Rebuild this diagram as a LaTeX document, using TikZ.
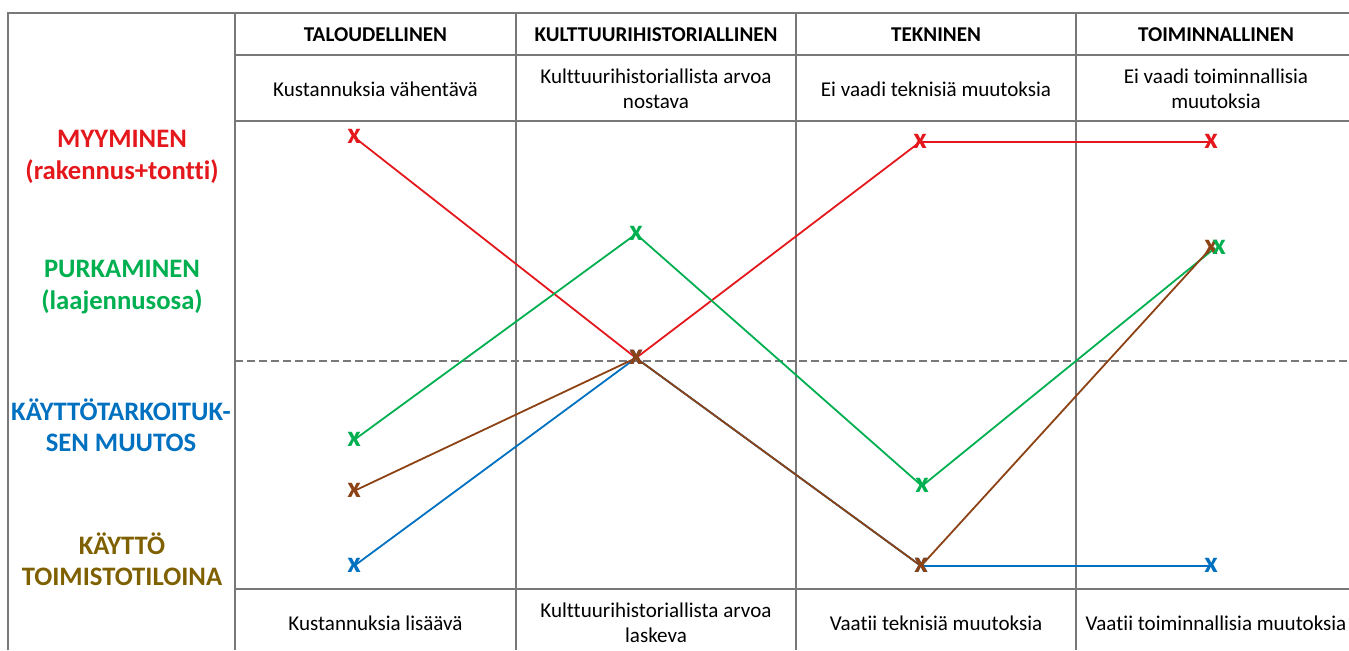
\documentclass[tikz,border=0pt]{standalone}
\usepackage{fontspec}
\setmainfont{Carlito}[Ligatures={NoCommon}]
\definecolor{gridc}{RGB}{120,120,120}
\definecolor{cred}{RGB}{228,24,28}
\definecolor{cgreen}{RGB}{0,176,80}
\definecolor{cblue}{RGB}{0,112,192}
\definecolor{cbrown}{RGB}{140,66,20}
\definecolor{cgold}{RGB}{127,96,0}
\begin{document}
\begin{tikzpicture}[x=0.75pt,y=-0.75pt,
  grid/.style={draw=gridc,line width=0.8pt},
  head/.style={font=\fontsize{15.8}{18}\selectfont\bfseries,inner sep=0pt,align=center},
  desc/.style={font=\fontsize{15.8}{18.75}\selectfont,inner sep=0pt,align=center},
  rowlab/.style={font=\fontsize{20}{23.5}\selectfont\bfseries,inner sep=0pt,align=center},
  serie/.style={line width=1.35pt},
  mk/.style={font=\fontsize{22}{22}\selectfont\bfseries,inner sep=0pt,anchor=base,yshift=-5.1pt}
]
\useasboundingbox (0,0) rectangle (1349,650);
% table frame
\draw[grid] (8,650) -- (8,13) -- (1349,13);
\foreach \x in {235,516,796,1076} \draw[grid] (\x,13) -- (\x,650);
\foreach \y in {55,121,589} \draw[grid] (235,\y) -- (1349,\y);
\draw[gridc,line width=0.8pt,dash pattern=on 6pt off 3pt] (235,361) -- (1349,361);

% headers
\node[head] (h1) at (375.5,35) {TALOUDELLINEN};
\node[head] (h2) at (656,35) {KULTTUURIHISTORIALLINEN};
\node[head] (h3) at (936,35) {TEKNINEN};
\node[head] (h4) at (1216,35) {TOIMINNALLINEN};
\node[desc] (d1) at (375.5,89) {Kustannuksia vähentävä};
\node[desc] (d2) at (656,89) {Kulttuurihistoriallista arvoa\\nostava};
\node[desc] (d3) at (936,89) {Ei vaadi teknisiä muutoksia};
\node[desc] (d4) at (1216,89) {Ei vaadi toiminnallisia\\muutoksia};
\node[desc] (b1) at (375.5,623) {Kustannuksia lisäävä};
\node[desc] (b2) at (656,623) {Kulttuurihistoriallista arvoa\\laskeva};
\node[desc] (b3) at (936,623) {Vaatii teknisiä muutoksia};
\node[desc] (b4) at (1216,623) {Vaatii toiminnallisia muutoksia};

% row labels
\node[rowlab,text=cred] (l1) at (122,157) {MYYMINEN\\(rakennus+tontti)};
\node[rowlab,text=cgreen] (l2) at (122,287) {PURKAMINEN\\(laajennusosa)};
\node[rowlab,text=cblue] (l3) at (121,425) {KÄYTTÖTARKOITUK-\\SEN MUUTOS};
\node[rowlab,text=cgold] (l4) at (122,559) {KÄYTTÖ\\TOIMISTOTILOINA};

% points
\coordinate (r1) at (354,137); \coordinate (r2) at (636,358); \coordinate (r3) at (920,142); \coordinate (r4) at (1211,142);
\coordinate (g1) at (354,440); \coordinate (g2) at (636,234); \coordinate (g3) at (922,486); \coordinate (g4) at (1215,248);
\coordinate (u1) at (354,566); \coordinate (u2) at (636,358); \coordinate (u3) at (921,566); \coordinate (u4) at (1211,566);
\coordinate (w1) at (354,491); \coordinate (w2) at (636,358); \coordinate (w3) at (921,566); \coordinate (w4) at (1211,248);

\draw[serie,cred] (r1) -- (r2) -- (r3) -- (r4);
\draw[serie,cgreen] (g1) -- (g2) -- (g3) -- (g4);
\draw[serie,cblue] (u1) -- (u2) -- (u3) -- (u4);
\draw[serie,cbrown] (w1) -- (w2) -- (w3) -- (w4);

\foreach \p in {r1,r2,r3,r4} \node[mk,text=cred] at (\p) {x};
\foreach \p in {g1,g2,g3} \node[mk,text=cgreen] at (\p) {x};
\foreach \p in {u1,u2,u3,u4} \node[mk,text=cblue] at (\p) {x};
\foreach \p in {w1,w2,w3,w4} \node[mk,text=cbrown] at (\p) {x};
\node[mk,text=cgreen,xshift=3pt] (g4b) at (g4) {x};
\end{tikzpicture}
\end{document}
